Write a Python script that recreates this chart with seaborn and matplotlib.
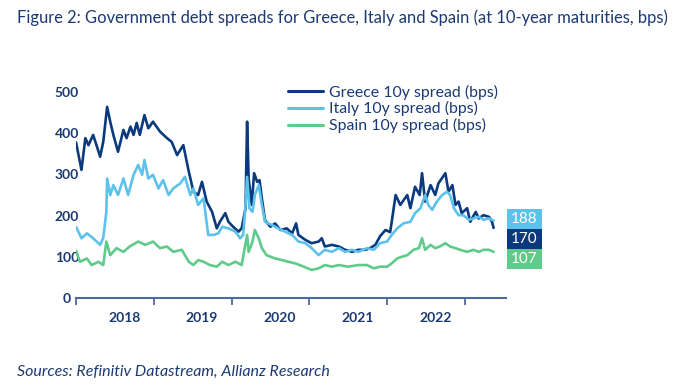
import pandas as pd
import matplotlib.pyplot as plt
import seaborn as sns
from matplotlib.patches import Rectangle

# values (decimal year, bps)
greece_t = [2018.00, 2018.07, 2018.12, 2018.16, 2018.22, 2018.27, 2018.31, 2018.35, 2018.40, 2018.44,
            2018.48, 2018.54, 2018.61, 2018.65, 2018.70, 2018.74, 2018.78, 2018.82, 2018.88, 2018.93,
            2018.99, 2019.08, 2019.17, 2019.23, 2019.30, 2019.38, 2019.45, 2019.51, 2019.57, 2019.62,
            2019.68, 2019.75, 2019.81, 2019.85, 2019.92, 2019.96, 2020.02, 2020.09, 2020.13, 2020.18,
            2020.20, 2020.22, 2020.26, 2020.29, 2020.33, 2020.36, 2020.39, 2020.43, 2020.50, 2020.56,
            2020.63, 2020.71, 2020.78, 2020.83, 2020.86, 2020.95, 2021.03, 2021.12, 2021.16, 2021.20,
            2021.29, 2021.38, 2021.46, 2021.55, 2021.63, 2021.72, 2021.78, 2021.85, 2021.91, 2021.98,
            2022.04, 2022.06, 2022.11, 2022.17, 2022.26, 2022.30, 2022.36, 2022.42, 2022.45, 2022.49,
            2022.56, 2022.62, 2022.66, 2022.75, 2022.79, 2022.84, 2022.88, 2022.92, 2022.96, 2023.03,
            2023.07, 2023.14, 2023.18, 2023.24, 2023.31, 2023.35, 2023.37]
greece_v = [378, 311, 388, 371, 396, 367, 343, 379, 464, 428,
            396, 355, 408, 388, 416, 396, 425, 396, 444, 412,
            428, 404, 388, 379, 347, 371, 307, 258, 250, 282,
            234, 209, 169, 185, 206, 185, 173, 161, 169, 218,
            428, 290, 226, 303, 282, 286, 242, 189, 173, 181,
            165, 169, 157, 181, 153, 141, 133, 137, 145, 125,
            129, 125, 117, 112, 117, 117, 121, 129, 150, 165,
            160, 185, 250, 226, 250, 218, 270, 250, 303, 234,
            274, 250, 278, 303, 258, 274, 226, 234, 206, 218,
            185, 209, 193, 201, 197, 185, 170]

italy_t = [2018.00, 2018.07, 2018.14, 2018.22, 2018.31, 2018.35, 2018.39, 2018.40, 2018.44, 2018.48,
           2018.54, 2018.61, 2018.67, 2018.74, 2018.80, 2018.85, 2018.88, 2018.93, 2018.99, 2019.06,
           2019.12, 2019.19, 2019.25, 2019.34, 2019.40, 2019.47, 2019.51, 2019.57, 2019.64, 2019.70,
           2019.77, 2019.83, 2019.88, 2019.96, 2020.05, 2020.11, 2020.15, 2020.18, 2020.20, 2020.23,
           2020.27, 2020.30, 2020.35, 2020.39, 2020.43, 2020.52, 2020.60, 2020.69, 2020.78, 2020.86,
           2020.95, 2021.03, 2021.12, 2021.20, 2021.29, 2021.38, 2021.46, 2021.55, 2021.63, 2021.74,
           2021.83, 2021.91, 2022.00, 2022.06, 2022.13, 2022.21, 2022.30, 2022.36, 2022.43, 2022.49,
           2022.53, 2022.58, 2022.64, 2022.71, 2022.77, 2022.81, 2022.86, 2022.92, 2022.98, 2023.05,
           2023.11, 2023.18, 2023.24, 2023.31, 2023.37]
italy_v = [173, 145, 157, 145, 129, 146, 209, 290, 250, 274,
           250, 290, 250, 299, 323, 299, 335, 290, 299, 266,
           286, 250, 266, 278, 294, 250, 266, 226, 242, 153,
           153, 157, 173, 169, 161, 145, 153, 226, 294, 218,
           209, 250, 274, 226, 185, 177, 169, 161, 153, 137,
           133, 121, 104, 117, 112, 121, 112, 117, 112, 121,
           117, 133, 137, 153, 169, 181, 185, 206, 218, 250,
           226, 214, 234, 250, 258, 250, 218, 201, 201, 190,
           193, 197, 190, 193, 188]

spain_t = [2018.00, 2018.05, 2018.14, 2018.20, 2018.29, 2018.35, 2018.39, 2018.44, 2018.52, 2018.61,
           2018.69, 2018.80, 2018.89, 2018.99, 2019.08, 2019.17, 2019.25, 2019.36, 2019.45, 2019.51,
           2019.57, 2019.64, 2019.72, 2019.81, 2019.88, 2019.96, 2020.05, 2020.13, 2020.20, 2020.22,
           2020.27, 2020.30, 2020.35, 2020.39, 2020.45, 2020.56, 2020.65, 2020.73, 2020.82, 2020.93,
           2021.03, 2021.12, 2021.20, 2021.29, 2021.38, 2021.50, 2021.63, 2021.74, 2021.83, 2021.91,
           2022.00, 2022.06, 2022.13, 2022.19, 2022.26, 2022.34, 2022.41, 2022.45, 2022.49, 2022.56,
           2022.62, 2022.68, 2022.75, 2022.81, 2022.88, 2022.94, 2023.03, 2023.11, 2023.18, 2023.24,
           2023.31, 2023.37]
spain_v = [115, 88, 96, 80, 88, 80, 137, 104, 121, 112,
           125, 137, 129, 137, 121, 125, 112, 117, 88, 80,
           92, 88, 80, 76, 88, 80, 88, 80, 153, 112,
           137, 165, 145, 121, 104, 96, 92, 88, 84, 76,
           68, 72, 80, 76, 80, 76, 80, 80, 72, 76,
           76, 84, 96, 100, 104, 117, 121, 145, 117, 129,
           121, 125, 133, 125, 121, 117, 112, 117, 112, 117,
           117, 112]

series_names = ["Greece 10y spread (bps)", "Italy 10y spread (bps)", "Spain 10y spread (bps)"]
series_colors = ["#0a3a7d", "#5cc2ec", "#5ecb8b"]
last_values = [188, 170, 107]
last_colors = ["#5cc2ec", "#0a3a7d", "#5ecb8b"]

year_ticks = [2018, 2019, 2020, 2021, 2022, 2023]
year_labels = ["2018", "2019", "2020", "2021", "2022"]
y_ticks = [0, 100, 200, 300, 400, 500]

navy = "#1c3a72"
axis_col = "#4d6b9c"

frames = []
for name, t, v in zip(series_names, [greece_t, italy_t, spain_t], [greece_v, italy_v, spain_v]):
    frames.append(pd.DataFrame({"year": t, "bps": v, "series": name}))
df = pd.concat(frames, ignore_index=True)

sns.set_style("white")
plt.rcParams["font.family"] = ["Lato", "DejaVu Sans"]

fig = plt.figure(figsize=(6.88, 3.87), dpi=100)
ax = fig.add_axes([0.1105, 0.23, 0.625, 0.5535])

sns.lineplot(data=df, x="year", y="bps", hue="series", hue_order=series_names,
             palette=series_colors, linewidth=1.9, errorbar=None, ax=ax)

ax.set_xlim(2018.0, 2023.53)
ax.set_ylim(0, 520)
ax.set_xlabel("")
ax.set_ylabel("")

for side in ["left", "top", "right"]:
    ax.spines[side].set_visible(False)
ax.spines["bottom"].set_color(axis_col)
ax.spines["bottom"].set_linewidth(1.5)

ax.set_xticks(year_ticks)
ax.set_xticklabels([])
ax.set_xticks([y + 0.62 for y in year_ticks[:-1]], minor=True)
ax.set_xticklabels(year_labels, minor=True, fontsize=10, fontweight="bold", color=navy)
ax.tick_params(axis="x", which="major", length=5, width=1.3, color=axis_col, direction="out", bottom=True)
ax.tick_params(axis="x", which="minor", length=0, pad=10)

ax.set_yticks(y_ticks)
ax.set_yticklabels([str(v) for v in y_ticks], fontsize=10, fontweight="bold", color=navy)
ax.tick_params(axis="y", length=0, pad=6.5)
for lab in ax.get_yticklabels():
    lab.set_horizontalalignment("center")

leg = ax.legend(loc="upper left", bbox_to_anchor=(0.4186, 0.781), bbox_transform=fig.transFigure,
                frameon=False, fontsize=11.4, handlelength=2.2, handletextpad=0.38,
                labelspacing=0.1, borderpad=0, borderaxespad=0)
for txt in leg.get_texts():
    txt.set_color(navy)
for line in leg.get_lines():
    line.set_linewidth(2.2)

# end-value boxes on the right
box_x, box_w, box_h = 507 / 688, 35 / 688, 20 / 387
for i, (val, col) in enumerate(zip(last_values, last_colors)):
    top = 1 - (209 + 20 * i) / 387
    fig.patches.append(Rectangle((box_x, top - box_h), box_w, box_h, transform=fig.transFigure,
                                 facecolor=col, edgecolor="none"))
    fig.text(box_x + box_w / 2, top - box_h / 2, str(val), ha="center", va="center",
             fontsize=11, color="white")

fig.text(0.025, 0.953, "Figure 2: Government debt spreads for Greece, Italy and Spain (at 10-year maturities, bps)",
         fontsize=11.9, color=navy, va="center")
fig.text(0.025, 0.038, "Sources: Refinitiv Datastream, Allianz Research", fontsize=11.5,
         style="italic", color=navy, va="center")

fig.savefig("out.png", dpi=100)
